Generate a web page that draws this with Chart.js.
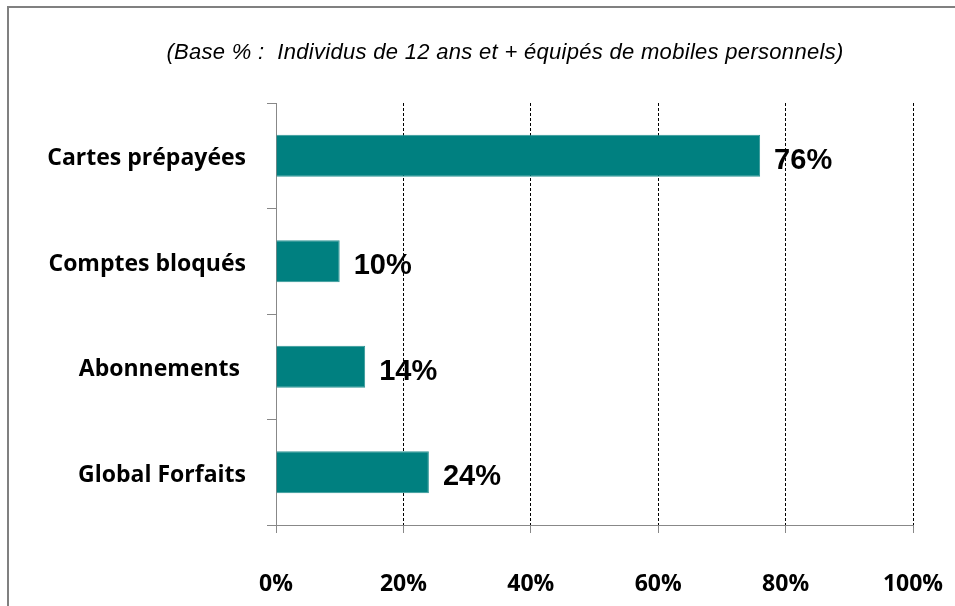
<!DOCTYPE html>
<html lang="fr">
<head>
    <meta charset="UTF-8">
    <title>Base % : Individus de 12 ans et + équipés de mobiles personnels</title>
    <script src="https://cdn.jsdelivr.net/npm/chart.js@4.4.0/dist/chart.umd.min.js"></script>
    <style>
        html, body {
            margin: 0;
            padding: 0;
            background: #fff;
            overflow: hidden;
        }
        .frame {
            position: absolute;
            left: 7px;
            top: 6px;
            width: 1000px;
            height: 700px;
            border: 2px solid #808080;
        }
        .chart-box {
            position: absolute;
            left: 0;
            top: 0;
            width: 955px;
            height: 606px;
        }
    </style>
</head>
<body>
    <div class="frame"></div>
    <div class="chart-box">
        <canvas id="chart"></canvas>
    </div>

    <script>
        const categories = ['Cartes prépayées', 'Comptes bloqués', 'Abonnements ', 'Global Forfaits'];
        const values = [76, 10, 14, 24];
        const xTicks = [0, 20, 40, 60, 80, 100];
        const titleText = '(Base % :  Individus de 12 ans et + équipés de mobiles personnels)';

        const labelFont = "'Open Sans', Lato, sans-serif";

        // subtitle line above the plot
        const subtitle = {
            id: 'subtitle',
            afterDraw(chart) {
                const ctx = chart.ctx;
                ctx.save();
                ctx.font = "italic 22px 'Liberation Sans', Arial, sans-serif";
                ctx.letterSpacing = '0.3px';
                ctx.fillStyle = '#000';
                ctx.textAlign = 'center';
                ctx.textBaseline = 'middle';
                ctx.fillText(titleText, 505, 53);
                ctx.restore();
            }
        };

        // value labels at the end of each bar
        const valueLabels = {
            id: 'valueLabels',
            afterDatasetsDraw(chart) {
                const ctx = chart.ctx;
                const meta = chart.getDatasetMeta(0);
                ctx.save();
                ctx.font = "bold 29px 'Liberation Sans', Arial, sans-serif";
                ctx.fillStyle = '#000';
                ctx.textAlign = 'left';
                ctx.textBaseline = 'middle';
                meta.data.forEach((bar, i) => {
                    ctx.fillText(values[i] + '%', bar.x + 14, bar.y + 5);
                });
                ctx.restore();
            }
        };

        new Chart(document.getElementById('chart'), {
            type: 'bar',
            data: {
                labels: categories,
                datasets: [{
                    data: values,
                    backgroundColor: '#008080',
                    borderColor: '#2f9595',
                    borderWidth: 1,
                    borderSkipped: 'left',
                    categoryPercentage: 0.8,
                    barPercentage: 0.5
                }]
            },
            options: {
                indexAxis: 'y',
                responsive: true,
                maintainAspectRatio: false,
                animation: false,
                layout: {
                    padding: { left: 0, right: 42, top: 103, bottom: 0 }
                },
                plugins: {
                    legend: { display: false },
                    tooltip: { enabled: false },
                    title: { display: false }
                },
                scales: {
                    x: {
                        min: 0,
                        max: 100,
                        afterBuildTicks(scale) {
                            scale.ticks = xTicks.map(v => ({ value: v }));
                        },
                        afterFit(scale) {
                            scale.height = 81;
                        },
                        grid: {
                            color: ctx => (ctx.tick && ctx.tick.value === 0) ? 'rgba(0,0,0,0)' : '#000',
                            tickColor: '#888',
                            tickLength: 8,
                            tickBorderDash: []
                        },
                        border: {
                            color: '#888',
                            dash: [3, 2]
                        },
                        ticks: {
                            color: '#000',
                            padding: 6,
                            font: { family: labelFont, size: 23, weight: 'bold', lineHeight: 3.95 },
                            callback: v => v + '%'
                        }
                    },
                    y: {
                        afterFit(scale) {
                            scale.width = 276;
                        },
                        grid: {
                            color: '#888',
                            drawOnChartArea: false,
                            tickLength: 9
                        },
                        border: { color: '#888' },
                        ticks: {
                            color: '#000',
                            padding: 21,
                            labelOffset: 3,
                            font: { family: labelFont, size: 23, weight: 'bold' }
                        }
                    }
                }
            },
            plugins: [valueLabels, subtitle]
        });
    </script>
</body>
</html>
